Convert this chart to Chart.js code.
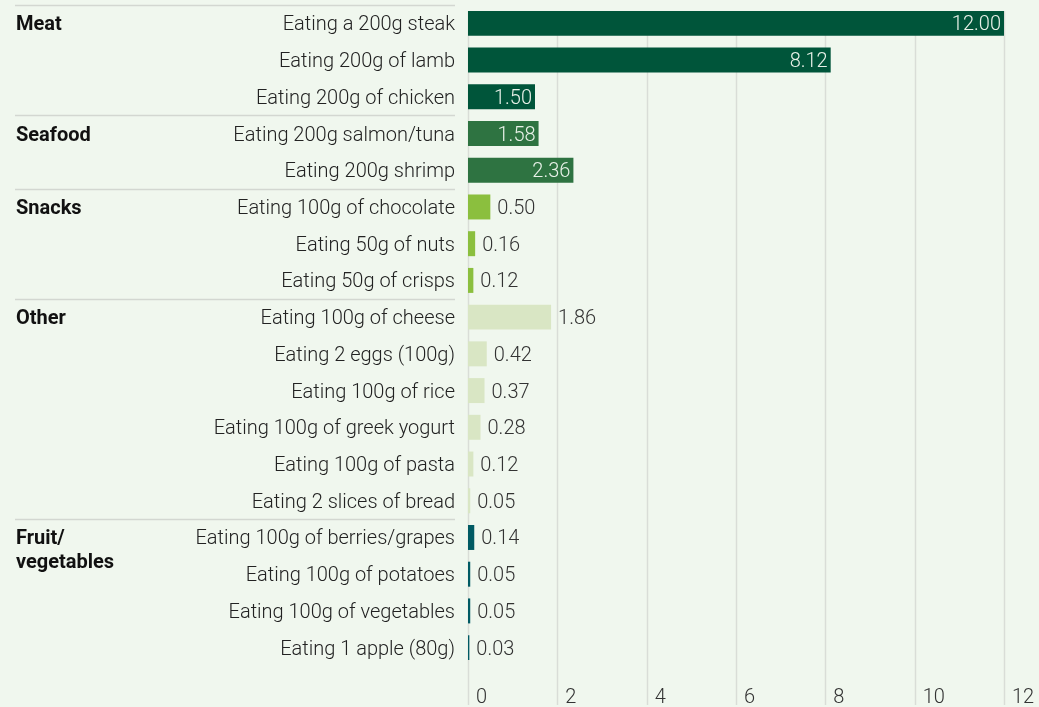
<!DOCTYPE html>
<html>
<head>
<meta charset="utf-8">
<script src="https://cdn.jsdelivr.net/npm/chart.js@4/dist/chart.umd.min.js"></script>
<style>
    html, body { margin: 0; padding: 0; background: #f0f7ee; }
    #wrap { width: 1039px; height: 707px; position: relative; }
</style>
</head>
<body>
<div id="wrap"><canvas id="myChart"></canvas></div>
<script>
const categories = [
    'Eating a 200g steak', 'Eating 200g of lamb', 'Eating 200g of chicken',
    'Eating 200g salmon/tuna', 'Eating 200g shrimp',
    'Eating 100g of chocolate', 'Eating 50g of nuts', 'Eating 50g of crisps',
    'Eating 100g of cheese', 'Eating 2 eggs (100g)', 'Eating 100g of rice',
    'Eating 100g of greek yogurt', 'Eating 100g of pasta', 'Eating 2 slices of bread',
    'Eating 100g of berries/grapes', 'Eating 100g of potatoes', 'Eating 100g of vegetables',
    'Eating 1 apple (80g)'
];
const values = [12.00, 8.12, 1.50, 1.58, 2.36, 0.50, 0.16, 0.12, 1.86, 0.42, 0.37, 0.28, 0.12, 0.05, 0.14, 0.05, 0.05, 0.03];
const groupNames = ['Meat', 'Seafood', 'Snacks', 'Other', 'Fruit/\nvegetables'];
const groupSizes = [3, 2, 3, 6, 4];
const groupColors = ['#00553a', '#2e7341', '#8bbf3e', '#d9e6c4', '#005a63'];
const insideLabel = [true, true, false, false, false];
const xTicks = [0, 2, 4, 6, 8, 10, 12];

const FONT = 'Roboto, "Liberation Sans", sans-serif';
const GRID = '#d9ddd7';

// group index for each bar
const barGroup = [];
groupSizes.forEach((n, g) => { for (let i = 0; i < n; i++) barGroup.push(g); });
const barColors = barGroup.map(g => groupColors[g]);

const gridPlugin = {
    id: 'grid',
    beforeDatasetsDraw(chart) {
        const ctx = chart.ctx;
        const x = chart.scales.x;
        const first = chart.getDatasetMeta(0).data[0];
        const top = first.y - first.height / 2;
        ctx.save();
        ctx.strokeStyle = GRID;
        ctx.lineWidth = 1.5;
        xTicks.forEach(t => {
            const px = Math.round(x.getPixelForValue(t)) + 0.5;
            ctx.beginPath();
            ctx.moveTo(px, top);
            ctx.lineTo(px, 705);
            ctx.stroke();
        });
        ctx.restore();
    }
};

const groupPlugin = {
    id: 'groups',
    afterDraw(chart) {
        const ctx = chart.ctx;
        const y = chart.scales.y;
        const half = (y.getPixelForValue(1) - y.getPixelForValue(0)) / 2;
        ctx.save();

        let start = 0;
        groupSizes.forEach((n, g) => {
            const top = Math.round(y.getPixelForValue(start) - half) + 0.5;
            ctx.strokeStyle = '#d3d7d1';
            ctx.lineWidth = 1.5;
            ctx.beginPath();
            ctx.moveTo(15, top);
            ctx.lineTo(455, top);
            ctx.stroke();

            ctx.fillStyle = '#111';
            ctx.font = 'bold 20px ' + FONT;
            ctx.textAlign = 'left';
            ctx.textBaseline = 'middle';
            groupNames[g].split('\n').forEach((line, k) => {
                ctx.fillText(line, 16, y.getPixelForValue(start) + 2 + k * 24);
            });
            start += n;
        });

        // value labels
        const meta = chart.getDatasetMeta(0);
        ctx.font = '300 20px ' + FONT;
        ctx.textBaseline = 'middle';
        meta.data.forEach((bar, i) => {
            const txt = values[i].toFixed(2);
            if (insideLabel[barGroup[i]]) {
                ctx.fillStyle = '#e8f1e8';
                ctx.textAlign = 'right';
                ctx.fillText(txt, bar.x - 3, bar.y + 2);
            } else {
                ctx.fillStyle = '#333';
                ctx.textAlign = 'left';
                ctx.fillText(txt, bar.x + 7, bar.y + 2);
            }
        });
        ctx.restore();
    }
};

new Chart(document.getElementById('myChart'), {
    type: 'bar',
    data: {
        labels: categories,
        datasets: [{
            data: values,
            backgroundColor: barColors,
            borderWidth: 0,
            barPercentage: 0.68,
            categoryPercentage: 1
        }]
    },
    options: {
        indexAxis: 'y',
        responsive: true,
        maintainAspectRatio: false,
        animation: false,
        layout: { padding: { top: 5, right: 35, bottom: 0, left: 0 } },
        plugins: { legend: { display: false }, tooltip: { enabled: false } },
        scales: {
            x: {
                min: 0,
                max: 12,
                afterBuildTicks(s) { s.ticks = xTicks.map(v => ({ value: v })); },
                afterFit(s) { s.height = 41; s.paddingLeft = 0; s.paddingRight = 0; },
                grid: { display: false },
                border: { display: false },
                ticks: {
                    align: 'start',
                    labelOffset: 8,
                    padding: 12,
                    color: '#333',
                    font: { family: FONT, size: 20, weight: '300' }
                }
            },
            y: {
                afterFit(s) { s.width = 468; s.paddingTop = 0; s.paddingBottom = 0; },
                grid: { display: false, drawTicks: false },
                border: { display: false },
                ticks: {
                    padding: 13,
                    labelOffset: 2,
                    color: '#222',
                    font: { family: FONT, size: 20, weight: '300' }
                }
            }
        }
    },
    plugins: [gridPlugin, groupPlugin]
});
</script>
</body>
</html>
